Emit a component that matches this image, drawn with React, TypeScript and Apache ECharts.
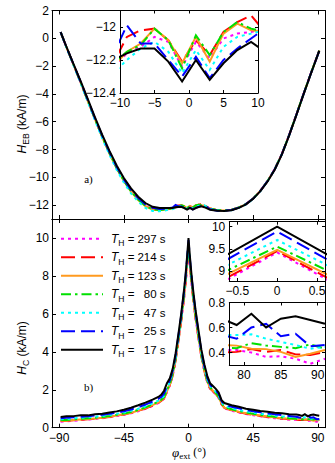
import React, { useEffect, useRef } from 'react';
import * as echarts from 'echarts';

// ---------- data ----------
const hebX = [-89, -85, -80, -75, -70, -65, -60, -55, -50, -45, -40, -35, -30, -25, -20, -15, -11, -9, -7, -5, -3, -1, 1, 3, 5, 7, 9, 11, 15, 20, 25, 30, 35, 40, 45, 50, 55, 60, 65, 70, 75, 80, 85, 91];

const heb297 = [0.45, -0.62, -1.9, -3.18, -4.5, -5.83, -7.09, -8.26, -9.33, -10.24, -11.0, -11.6, -12.05, -12.3, -12.34, -12.3, -12.24, -12.16, -12.12, -12.06, -12.09, -12.24, -12.09, -12.19, -12.07, -12.04, -12.03, -12.01, -12.25, -12.37, -12.39, -12.34, -12.18, -11.93, -11.53, -10.98, -10.28, -9.43, -8.33, -6.98, -5.53, -4.03, -2.58, -0.88];
const heb214 = [0.45, -0.62, -1.9, -3.18, -4.5, -5.82, -7.08, -8.24, -9.3, -10.2, -10.95, -11.55, -12.0, -12.25, -12.3, -12.25, -12.22, -12.06, -12.02, -12.01, -12.08, -12.21, -12.08, -12.17, -12.03, -11.97, -11.93, -12.03, -12.25, -12.36, -12.38, -12.33, -12.17, -11.92, -11.52, -10.97, -10.27, -9.42, -8.32, -6.97, -5.52, -4.02, -2.57, -0.88];
const heb123 = [0.45, -0.63, -1.92, -3.2, -4.53, -5.86, -7.12, -8.29, -9.36, -10.27, -11.03, -11.63, -12.08, -12.33, -12.37, -12.3, -12.24, -12.15, -12.1, -12.01, -12.08, -12.22, -12.06, -12.21, -12.04, -11.98, -12.02, -12.03, -12.25, -12.37, -12.39, -12.34, -12.18, -11.93, -11.53, -10.98, -10.28, -9.43, -8.33, -6.98, -5.53, -4.03, -2.58, -0.88];
const heb80 = [0.45, -0.63, -1.92, -3.2, -4.52, -5.85, -7.1, -8.27, -9.33, -10.24, -11.0, -11.6, -12.05, -12.3, -12.35, -12.3, -12.22, -12.15, -12.11, -12.01, -12.08, -12.25, -12.05, -12.17, -12.03, -11.97, -12.01, -12.03, -12.25, -12.36, -12.38, -12.33, -12.17, -11.92, -11.52, -10.97, -10.27, -9.42, -8.32, -6.97, -5.52, -4.02, -2.57, -0.88];
const heb47 = [0.45, -0.65, -1.95, -3.25, -4.58, -5.92, -7.2, -8.38, -9.46, -10.38, -11.15, -11.75, -12.2, -12.42, -12.44, -12.36, -12.28, -12.2, -12.13, -12.09, -12.15, -12.28, -12.14, -12.26, -12.12, -12.06, -12.04, -12.02, -12.28, -12.4, -12.42, -12.37, -12.2, -11.95, -11.55, -11.0, -10.3, -9.45, -8.35, -7.0, -5.55, -4.05, -2.6, -0.9];
const heb25 = [0.45, -0.62, -1.88, -3.15, -4.45, -5.78, -7.02, -8.18, -9.25, -10.15, -10.9, -11.5, -11.95, -12.2, -12.28, -12.25, -12.17, -11.99, -12.1, -12.1, -12.2, -12.3, -12.18, -12.31, -12.2, -12.13, -12.07, -12.01, -12.3, -12.4, -12.4, -12.35, -12.18, -11.93, -11.53, -10.98, -10.28, -9.43, -8.33, -6.98, -5.53, -4.03, -2.58, -0.9];
const heb17 = [0.45, -0.6, -1.85, -3.1, -4.4, -5.7, -6.95, -8.1, -9.15, -10.05, -10.8, -11.4, -11.85, -12.12, -12.2, -12.2, -12.2, -12.16, -12.13, -12.13, -12.21, -12.33, -12.2, -12.32, -12.22, -12.14, -12.09, -12.15, -12.33, -12.4, -12.42, -12.37, -12.2, -11.95, -11.55, -11.0, -10.3, -9.45, -8.35, -7.0, -5.55, -4.05, -2.6, -0.9];

const hcX = [-89, -85, -80, -75, -70, -65, -60, -55, -50, -45, -40, -35, -30, -25, -21, -19, -17, -15, -13, -11, -9, -7, -5, -3, -2, -1, 0, 1, 2, 3, 5, 7, 9, 11, 13, 15, 17, 19, 21, 23, 25, 30, 35, 40, 45, 50, 55, 60, 65, 70, 75, 77, 79, 81, 83, 85, 87, 89, 91];

const hc297 = [0.32, 0.33, 0.36, 0.4, 0.43, 0.46, 0.5, 0.55, 0.61, 0.68, 0.76, 0.87, 0.99, 1.15, 1.29, 1.39, 1.53, 1.88, 2.22, 2.71, 3.5, 4.55, 5.62, 6.87, 7.6, 8.45, 9.42, 8.45, 7.65, 6.92, 5.7, 4.68, 3.7, 2.98, 2.4, 2.05, 1.9, 1.75, 1.55, 1.22, 1.02, 0.89, 0.8, 0.72, 0.66, 0.6, 0.55, 0.5, 0.46, 0.43, 0.41, 0.42, 0.42, 0.4, 0.365, 0.37, 0.35, 0.31, 0.35];
const hc214 = [0.35, 0.36, 0.39, 0.42, 0.45, 0.48, 0.52, 0.57, 0.63, 0.7, 0.78, 0.89, 1.01, 1.17, 1.31, 1.41, 1.55, 1.9, 2.25, 2.74, 3.52, 4.57, 5.65, 6.9, 7.65, 8.5, 9.45, 8.5, 7.7, 6.95, 5.72, 4.7, 3.72, 3.0, 2.42, 2.07, 1.92, 1.78, 1.58, 1.24, 1.04, 0.91, 0.82, 0.74, 0.68, 0.62, 0.57, 0.52, 0.48, 0.45, 0.42, 0.4, 0.405, 0.427, 0.405, 0.42, 0.385, 0.38, 0.405];
const hc123 = [0.36, 0.37, 0.4, 0.43, 0.46, 0.49, 0.53, 0.58, 0.64, 0.71, 0.79, 0.9, 1.03, 1.19, 1.33, 1.43, 1.57, 1.92, 2.27, 2.77, 3.56, 4.62, 5.7, 6.97, 7.72, 8.6, 9.48, 8.6, 7.77, 7.02, 5.78, 4.76, 3.76, 3.03, 2.45, 2.1, 1.95, 1.8, 1.6, 1.26, 1.06, 0.93, 0.84, 0.76, 0.7, 0.64, 0.59, 0.54, 0.5, 0.47, 0.45, 0.46, 0.455, 0.43, 0.427, 0.405, 0.365, 0.39, 0.42];
const hc80 = [0.4, 0.41, 0.44, 0.47, 0.5, 0.53, 0.57, 0.62, 0.68, 0.75, 0.83, 0.94, 1.07, 1.23, 1.37, 1.47, 1.62, 1.98, 2.33, 2.83, 3.62, 4.68, 5.78, 7.05, 7.8, 8.7, 9.55, 8.7, 7.85, 7.1, 5.85, 4.82, 3.82, 3.08, 2.5, 2.14, 1.99, 1.84, 1.64, 1.3, 1.1, 0.97, 0.88, 0.8, 0.74, 0.68, 0.63, 0.58, 0.54, 0.5, 0.47, 0.44, 0.435, 0.475, 0.455, 0.445, 0.435, 0.465, 0.43];
const hc47 = [0.45, 0.46, 0.49, 0.52, 0.55, 0.58, 0.62, 0.67, 0.73, 0.8, 0.89, 1.0, 1.13, 1.29, 1.43, 1.53, 1.68, 2.05, 2.4, 2.9, 3.7, 4.75, 5.85, 7.15, 7.9, 8.8, 9.7, 8.8, 7.95, 7.2, 5.95, 4.9, 3.9, 3.15, 2.57, 2.2, 2.05, 1.9, 1.7, 1.35, 1.16, 1.03, 0.94, 0.86, 0.8, 0.74, 0.69, 0.64, 0.6, 0.57, 0.55, 0.54, 0.54, 0.545, 0.51, 0.485, 0.46, 0.43, 0.445];
const hc25 = [0.5, 0.52, 0.55, 0.58, 0.6, 0.64, 0.68, 0.73, 0.79, 0.87, 0.96, 1.08, 1.22, 1.38, 1.52, 1.62, 1.8, 2.2, 2.5, 3.0, 3.8, 4.85, 5.95, 7.25, 8.0, 8.89, 9.89, 8.89, 8.05, 7.3, 6.05, 5.0, 4.0, 3.25, 2.65, 2.27, 2.12, 1.97, 1.78, 1.4, 1.22, 1.1, 1.02, 0.93, 0.87, 0.81, 0.76, 0.71, 0.66, 0.62, 0.58, 0.54, 0.51, 0.6, 0.63, 0.53, 0.55, 0.45, 0.46];
const hc17 = [0.57, 0.6, 0.61, 0.66, 0.65, 0.71, 0.74, 0.8, 0.86, 0.95, 1.05, 1.18, 1.32, 1.48, 1.62, 1.73, 1.95, 2.35, 2.6, 3.1, 3.9, 4.95, 6.05, 7.35, 8.1, 9.0, 10.0, 9.0, 8.15, 7.4, 6.15, 5.1, 4.1, 3.35, 2.75, 2.35, 2.2, 2.05, 1.86, 1.45, 1.3, 1.18, 1.1, 1.0, 0.95, 0.88, 0.84, 0.79, 0.76, 0.71, 0.69, 0.67, 0.62, 0.71, 0.6, 0.67, 0.69, 0.66, 0.63];

const seriesNames = ['297 s', '214 s', '123 s', '80 s', '47 s', '25 s', '17 s'];
const hebData = [heb297, heb214, heb123, heb80, heb47, heb25, heb17];
const hcData = [hc297, hc214, hc123, hc80, hc47, hc25, hc17];

const mainXTicks = [-90, -45, 0, 45, 90];
const hebYTicks = [-12, -10, -8, -6, -4, -2, 0, 2];
const hcYTicks = [0, 2, 4, 6, 8, 10];
const inAXTicks = [-10, -5, 0, 5, 10];
const inAYTicks = [-12.4, -12.2, -12];
const inBXTicks = [-0.5, 0, 0.5];
const inBYTicks = [9, 9.5, 10];
const inCXTicks = [80, 85, 90];
const inCYTicks = [0.4, 0.6, 0.8];

// ---------- styles ----------
const colors = ['#ff00ff', '#ff0000', '#ff9a1f', '#00e000', '#00ffff', '#0000ff', '#000000'];
const dashes: any[] = [[3, 4], [14, 6], 'solid', [10, 4, 2.5, 4], [3, 4], [14, 6], 'solid'];
const F = 'Liberation Sans';
const SERIF = 'Liberation Serif';

const fmt = (v: number) => (v < 0 ? '\u2212' + String(-v) : String(v));

function axisPair(kind: 'x' | 'y', grid: number, min: number, max: number, ticks: number[], tickLen: number, margin: number, z: number) {
  const mk = (pos: string, labels: boolean) => ({
    type: 'value',
    gridIndex: grid,
    min,
    max,
    position: pos,
    z,
    axisLine: { show: true, onZero: false, lineStyle: { color: '#000', width: 1 } },
    axisTick: { show: true, inside: true, length: tickLen, customValues: ticks, lineStyle: { color: '#000', width: 1 } },
    axisLabel: { show: labels, customValues: ticks, formatter: fmt, fontFamily: F, fontSize: 12, color: '#000', margin },
    splitLine: { show: false },
    axisPointer: { show: false },
  });
  return kind === 'x' ? [mk('bottom', true), mk('top', false)] : [mk('left', true), mk('right', false)];
}

export default function App() {
  const ref = useRef<HTMLDivElement>(null);
  useEffect(() => {
    document.body.style.margin = '0';
    if (!ref.current) return;
    const chart = echarts.init(ref.current, undefined, { renderer: 'svg' });

    const grids = [
      { left: 52, top: 10.5, width: 273, height: 208.5 },
      { left: 52, top: 219, width: 273, height: 208.7 },
      { left: 120, top: 10.5, width: 138, height: 82.5, show: true, backgroundColor: '#fff', borderWidth: 0, z: 4 },
      { left: 229.3, top: 221.7, width: 95.7, height: 59.3, show: true, backgroundColor: '#fff', borderWidth: 0, z: 4 },
      { left: 229.3, top: 302.5, width: 95.7, height: 62.5, show: true, backgroundColor: '#fff', borderWidth: 0, z: 4 },
    ].map((g) => ({ outerBoundsMode: 'none', containLabel: false, ...g }));

    const xAxis: any[] = [];
    const yAxis: any[] = [];
    const hideLabel = (a: any) => ({ ...a, axisLabel: { ...a.axisLabel, show: false } });
    // grid 0 (top main): no x labels
    xAxis.push(...axisPair('x', 0, -95, 95, mainXTicks, 4, 4, 3).map(hideLabel));
    yAxis.push(...axisPair('y', 0, -13, 2, hebYTicks, 4, 3, 3));
    // grid 1 (bottom main)
    xAxis.push(...axisPair('x', 1, -95, 95, mainXTicks, 4, 4, 3));
    yAxis.push(...axisPair('y', 1, 0, 11, hcYTicks, 4, 3, 3));
    // grid 2 (top inset)
    xAxis.push(...axisPair('x', 2, -10, 10, inAXTicks, 3, 4, 7));
    yAxis.push(...axisPair('y', 2, -12.4, -11.9, inAYTicks, 3, 4, 7));
    // grid 3 (peak inset)
    xAxis.push(...axisPair('x', 3, -0.6, 0.6, inBXTicks, 3, 4, 7));
    yAxis.push(...axisPair('y', 3, 8.78, 10.11, inBYTicks, 3, 4, 7));
    // grid 4 (tail inset)
    xAxis.push(...axisPair('x', 4, 78, 91, inCXTicks, 3, 4, 7));
    yAxis.push(...axisPair('y', 4, 0.3, 0.8, inCYTicks, 3, 4, 7));

    const series: any[] = [];
    const addSeries = (xs: number[], ys: number[][], axisIdx: number, z: number) => {
      ys.forEach((vals, i) => {
        series.push({
          type: 'line',
          name: seriesNames[i],
          xAxisIndex: axisIdx,
          yAxisIndex: axisIdx,
          data: xs.map((x, j) => [x, vals[j]]),
          symbol: 'none',
          showSymbol: false,
          clip: true,
          silent: true,
          z,
          itemStyle: { color: colors[i] },
          lineStyle: { color: colors[i], width: 2, type: dashes[i], join: 'miter', miterLimit: 8 },
          emphasis: { disabled: true },
        });
      });
    };
    addSeries(hebX, hebData, 0, 2);
    addSeries(hcX, hcData, 2, 2);
    addSeries(hebX, hebData, 4, 6);
    addSeries(hcX, hcData, 6, 6);
    addSeries(hcX, hcData, 8, 6);

    const richLegend = {
      i: { fontFamily: F, fontStyle: 'italic', fontSize: 12, lineHeight: 18, padding: [0, 0, 0, 3], color: '#000' },
      s: { fontFamily: F, fontSize: 8.5, lineHeight: 10, verticalAlign: 'bottom', color: '#000' },
      e: { fontFamily: F, fontSize: 11.5, lineHeight: 18, color: '#000' },
      v: { fontFamily: F, fontSize: 11.5, lineHeight: 18, width: 28, align: 'right', color: '#000' },
    };

    const richAxis = (size: number) => ({
      i: { fontFamily: F, fontStyle: 'italic', fontSize: size, lineHeight: 16, color: '#000' },
      s: { fontFamily: F, fontSize: size * 0.72, lineHeight: 9, verticalAlign: 'bottom', color: '#000' },
      n: { fontFamily: F, fontSize: size, lineHeight: 16, color: '#000' },
    });

    chart.setOption({
      animation: false,
      backgroundColor: '#fff',
      grid: grids,
      xAxis,
      yAxis,
      series,
      legend: {
        orient: 'vertical',
        left: 60,
        top: 231.5,
        padding: 0,
        itemGap: 2.3,
        itemWidth: 42,
        itemHeight: 18,
        selectedMode: false,
        data: seriesNames,
        itemStyle: { opacity: 0 },
        formatter: (name: string) => `{i|T}{s|H}{e| = }{v|${name}}`,
        textStyle: { rich: richLegend },
        z: 8,
      },
      graphic: [
        {
          type: 'text', x: 22, y: 124, rotation: Math.PI / 2, z: 10,
          style: { text: '{i|H}{s|EB}{n| (kA/m)}', rich: richAxis(12), align: 'center', verticalAlign: 'middle' },
        },
        {
          type: 'text', x: 22, y: 348, rotation: Math.PI / 2, z: 10,
          style: { text: '{i|H}{s|C}{n| (kA/m)}', rich: richAxis(12), align: 'center', verticalAlign: 'middle' },
        },
        {
          type: 'text', x: 189, y: 452, z: 10,
          style: {
            text: '{p|φ}{s|ext}{n| (°)}',
            align: 'center', verticalAlign: 'middle',
            rich: {
              p: { fontFamily: SERIF, fontStyle: 'italic', fontSize: 13, lineHeight: 16, color: '#444' },
              s: { fontFamily: SERIF, fontSize: 9, lineHeight: 9, verticalAlign: 'bottom', color: '#444' },
              n: { fontFamily: SERIF, fontSize: 12, lineHeight: 16, color: '#444' },
            },
          },
        },
        {
          type: 'text', x: 88.5, y: 179, z: 10,
          style: { text: 'a)', fontFamily: SERIF, fontSize: 11, fill: '#000', align: 'center', verticalAlign: 'middle' },
        },
        {
          type: 'text', x: 88.5, y: 387, z: 10,
          style: { text: 'b)', fontFamily: SERIF, fontSize: 11, fill: '#000', align: 'center', verticalAlign: 'middle' },
        },
      ],
    });
    return () => chart.dispose();
  }, []);
  return <div ref={ref} style={{ width: 335, height: 463 }} />;
}
